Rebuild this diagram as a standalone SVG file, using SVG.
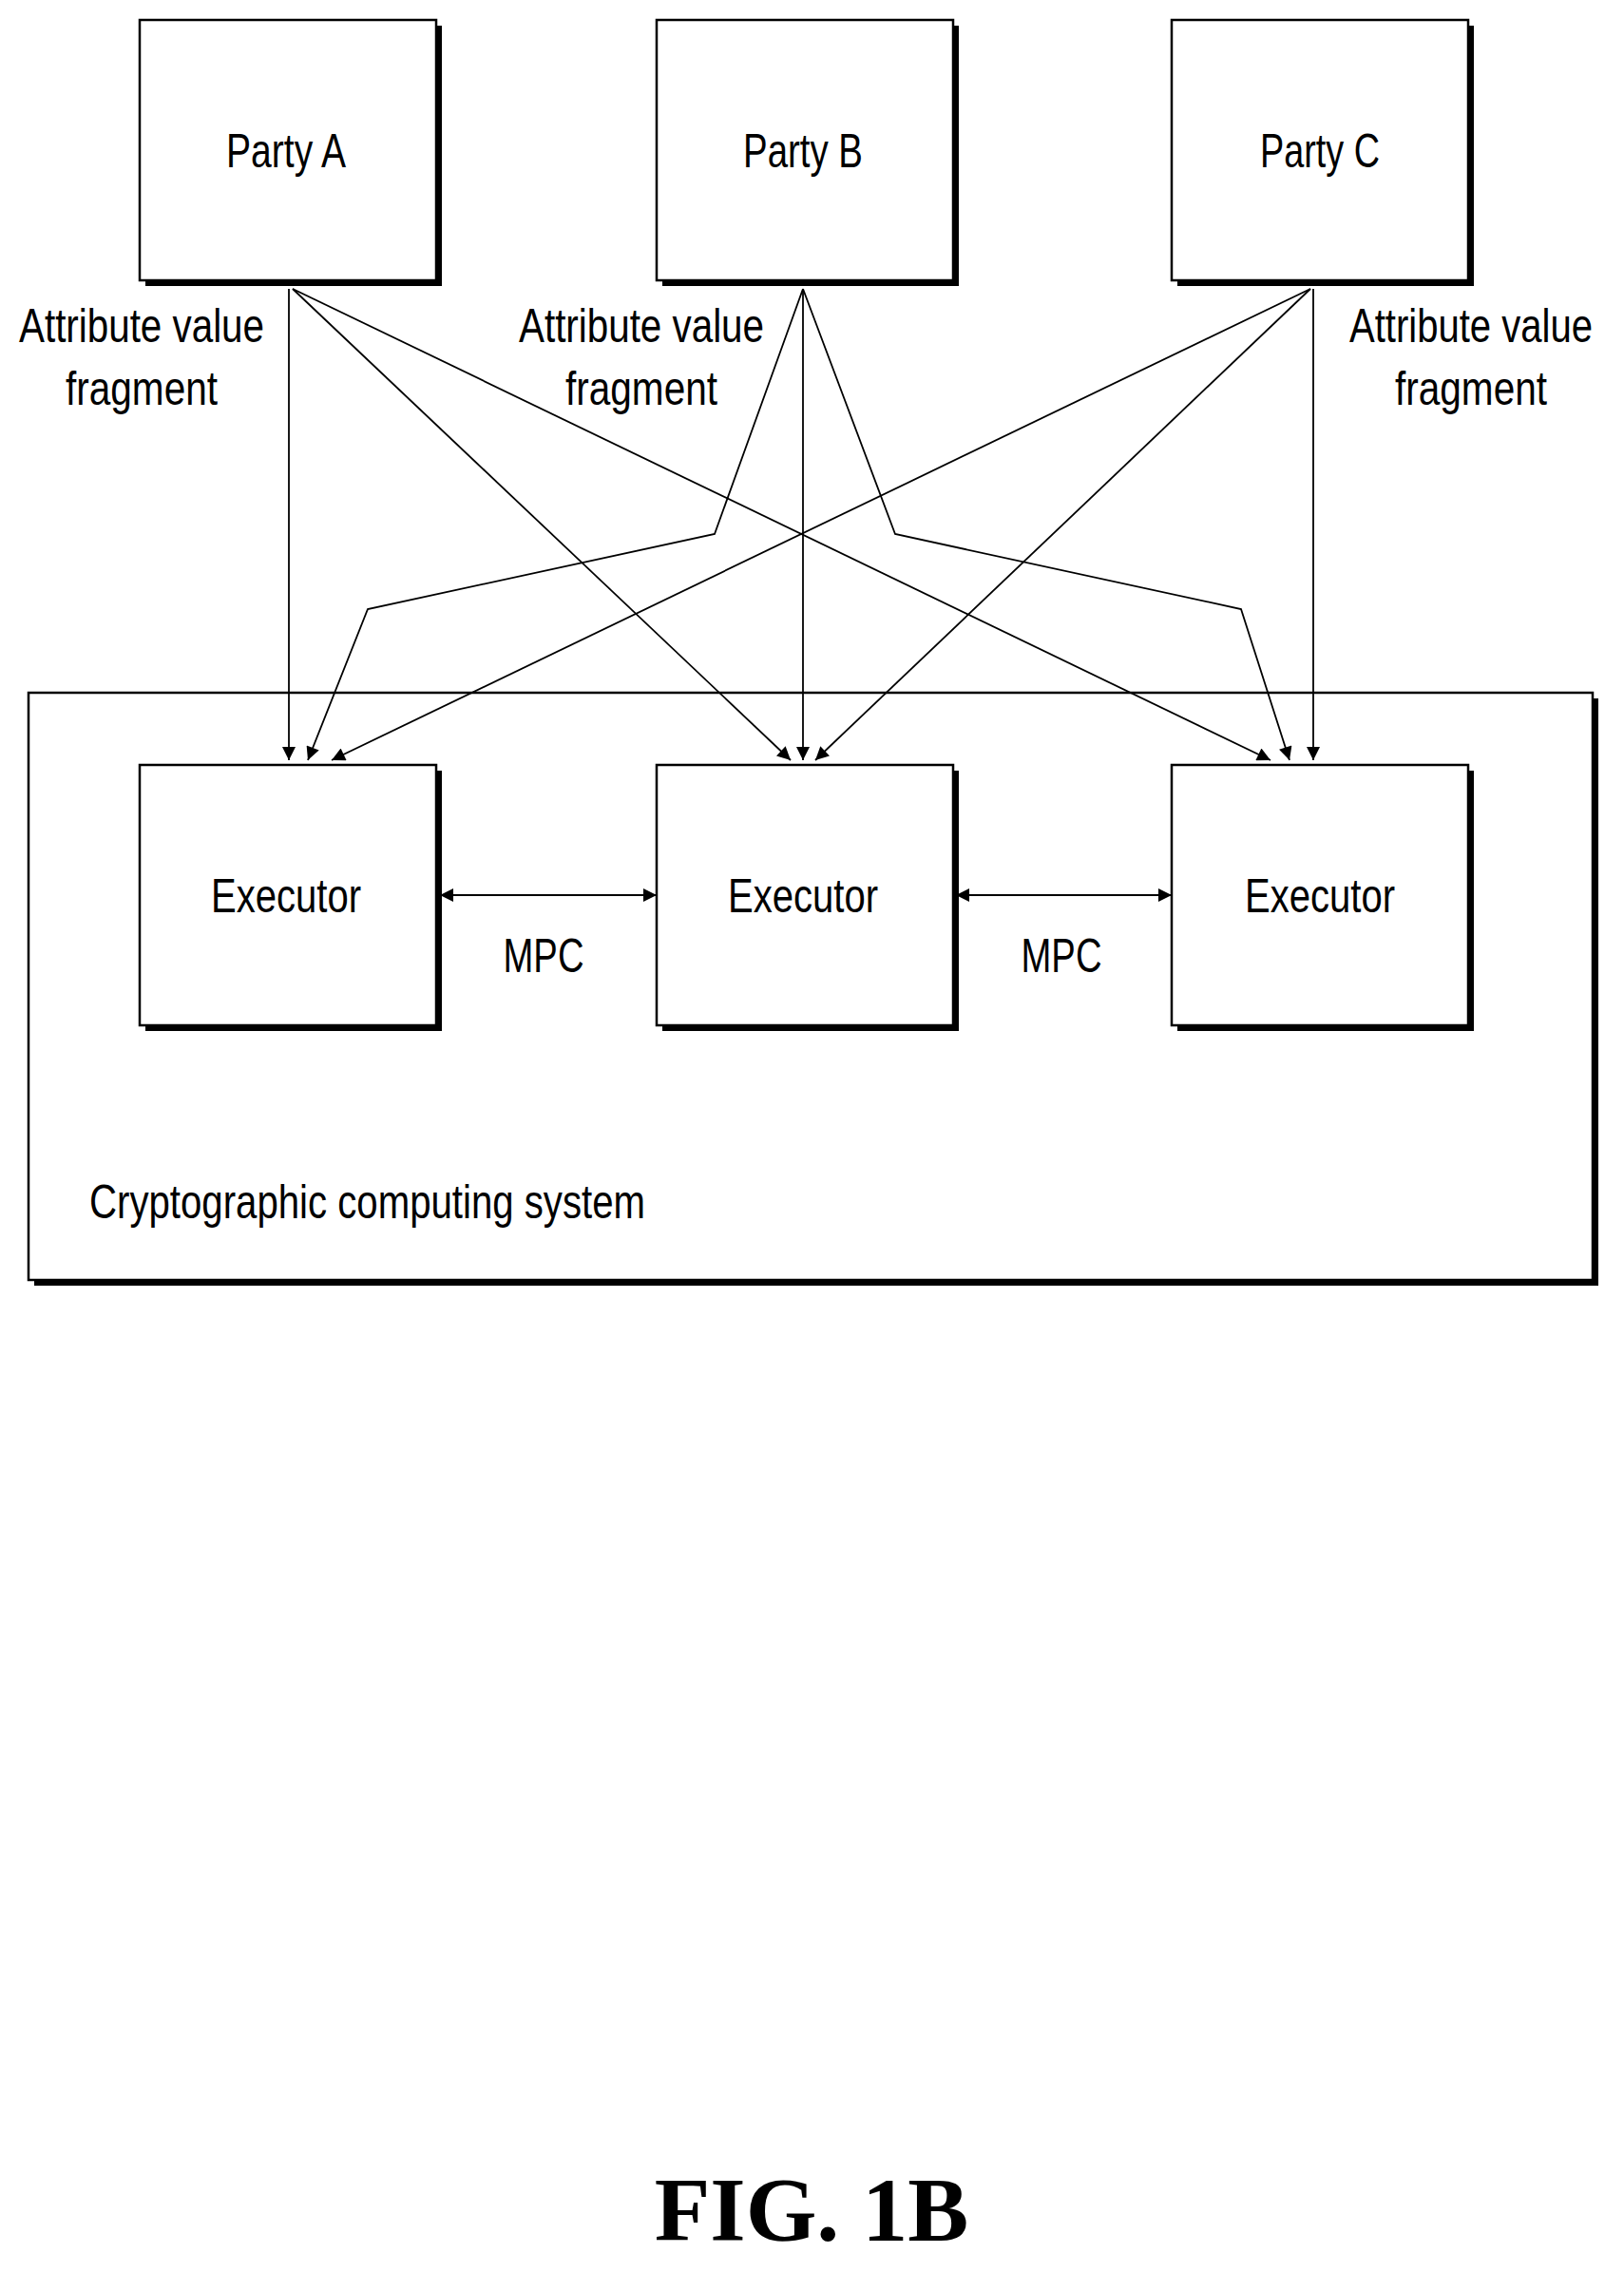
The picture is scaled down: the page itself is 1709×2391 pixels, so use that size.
<svg xmlns="http://www.w3.org/2000/svg" width="1709" height="2391" viewBox="0 0 1709 2391">
<style>
.box{fill:#fff;stroke:#000;stroke-width:2.5}
.sh{fill:#000}
.t{font-family:"Liberation Sans",Arial,sans-serif;font-size:50px;text-anchor:middle}
.c{fill:none;stroke:#000;stroke-width:1.8}
</style>
<defs>
<marker id="ah" viewBox="0 0 10 10" refX="10" refY="5" markerWidth="16" markerHeight="14" markerUnits="userSpaceOnUse" orient="auto-start-reverse"><path d="M0,0L10,5L0,10z" fill="#000"/></marker>
</defs>
<rect width="1709" height="2391" fill="#fff"/>
<g id="system">
<rect class="sh" x="36" y="735" width="1646" height="618"/>
<rect class="box" x="30" y="729" width="1646" height="618"/>
<text class="t" x="94" y="1282" style="text-anchor:start" textLength="585" lengthAdjust="spacingAndGlyphs">Cryptographic computing system</text>
</g>
<g id="partyA"><rect class="sh" x="153" y="27" width="312" height="274"/><rect class="box" x="147" y="21" width="312" height="274"/><text class="t" x="301" y="176" textLength="126" lengthAdjust="spacingAndGlyphs">Party A</text></g>
<g id="partyB"><rect class="sh" x="697" y="27" width="312" height="274"/><rect class="box" x="691" y="21" width="312" height="274"/><text class="t" x="845" y="176" textLength="126" lengthAdjust="spacingAndGlyphs">Party B</text></g>
<g id="partyC"><rect class="sh" x="1239" y="27" width="312" height="274"/><rect class="box" x="1233" y="21" width="312" height="274"/><text class="t" x="1389" y="176" textLength="126" lengthAdjust="spacingAndGlyphs">Party C</text></g>
<g id="execA"><rect class="sh" x="153" y="811" width="312" height="274"/><rect class="box" x="147" y="805" width="312" height="274"/><text class="t" x="301" y="960" textLength="158" lengthAdjust="spacingAndGlyphs">Executor</text></g>
<g id="execB"><rect class="sh" x="697" y="811" width="312" height="274"/><rect class="box" x="691" y="805" width="312" height="274"/><text class="t" x="845" y="960" textLength="158" lengthAdjust="spacingAndGlyphs">Executor</text></g>
<g id="execC"><rect class="sh" x="1239" y="811" width="312" height="274"/><rect class="box" x="1233" y="805" width="312" height="274"/><text class="t" x="1389" y="960" textLength="158" lengthAdjust="spacingAndGlyphs">Executor</text></g>
<g id="labels">
<text class="t" x="149" y="360" textLength="258" lengthAdjust="spacingAndGlyphs">Attribute value</text>
<text class="t" x="149" y="426" textLength="160" lengthAdjust="spacingAndGlyphs">fragment</text>
<text class="t" x="675" y="360" textLength="258" lengthAdjust="spacingAndGlyphs">Attribute value</text>
<text class="t" x="675" y="426" textLength="160" lengthAdjust="spacingAndGlyphs">fragment</text>
<text class="t" x="1548" y="360" textLength="256" lengthAdjust="spacingAndGlyphs">Attribute value</text>
<text class="t" x="1548" y="426" textLength="160" lengthAdjust="spacingAndGlyphs">fragment</text>
<text class="t" x="572" y="1023" textLength="85" lengthAdjust="spacingAndGlyphs">MPC</text>
<text class="t" x="1117" y="1023" textLength="85" lengthAdjust="spacingAndGlyphs">MPC</text>
</g>
<g id="connectors">
<path class="c" marker-end="url(#ah)" d="M304,304L304,800"/>
<path class="c" marker-end="url(#ah)" d="M308,304L832,800"/>
<path class="c" marker-end="url(#ah)" d="M308,304L1337,800"/>
<path class="c" marker-end="url(#ah)" d="M845,304L752,562L387,641L324,800"/>
<path class="c" marker-end="url(#ah)" d="M845,304L845,800"/>
<path class="c" marker-end="url(#ah)" d="M845,304L942,562L1306,641L1357,800"/>
<path class="c" marker-end="url(#ah)" d="M1379,304L349,800"/>
<path class="c" marker-end="url(#ah)" d="M1379,304L858,800"/>
<path class="c" marker-end="url(#ah)" d="M1382,304L1382,800"/>
<path class="c" marker-start="url(#ah)" marker-end="url(#ah)" d="M463,942L691,942"/>
<path class="c" marker-start="url(#ah)" marker-end="url(#ah)" d="M1006,942L1233,942"/>
</g>
<text x="854" y="2358" style="font-family:'Liberation Serif','Times New Roman',serif;font-weight:bold;font-size:96px;text-anchor:middle">FIG. 1B</text>
</svg>
